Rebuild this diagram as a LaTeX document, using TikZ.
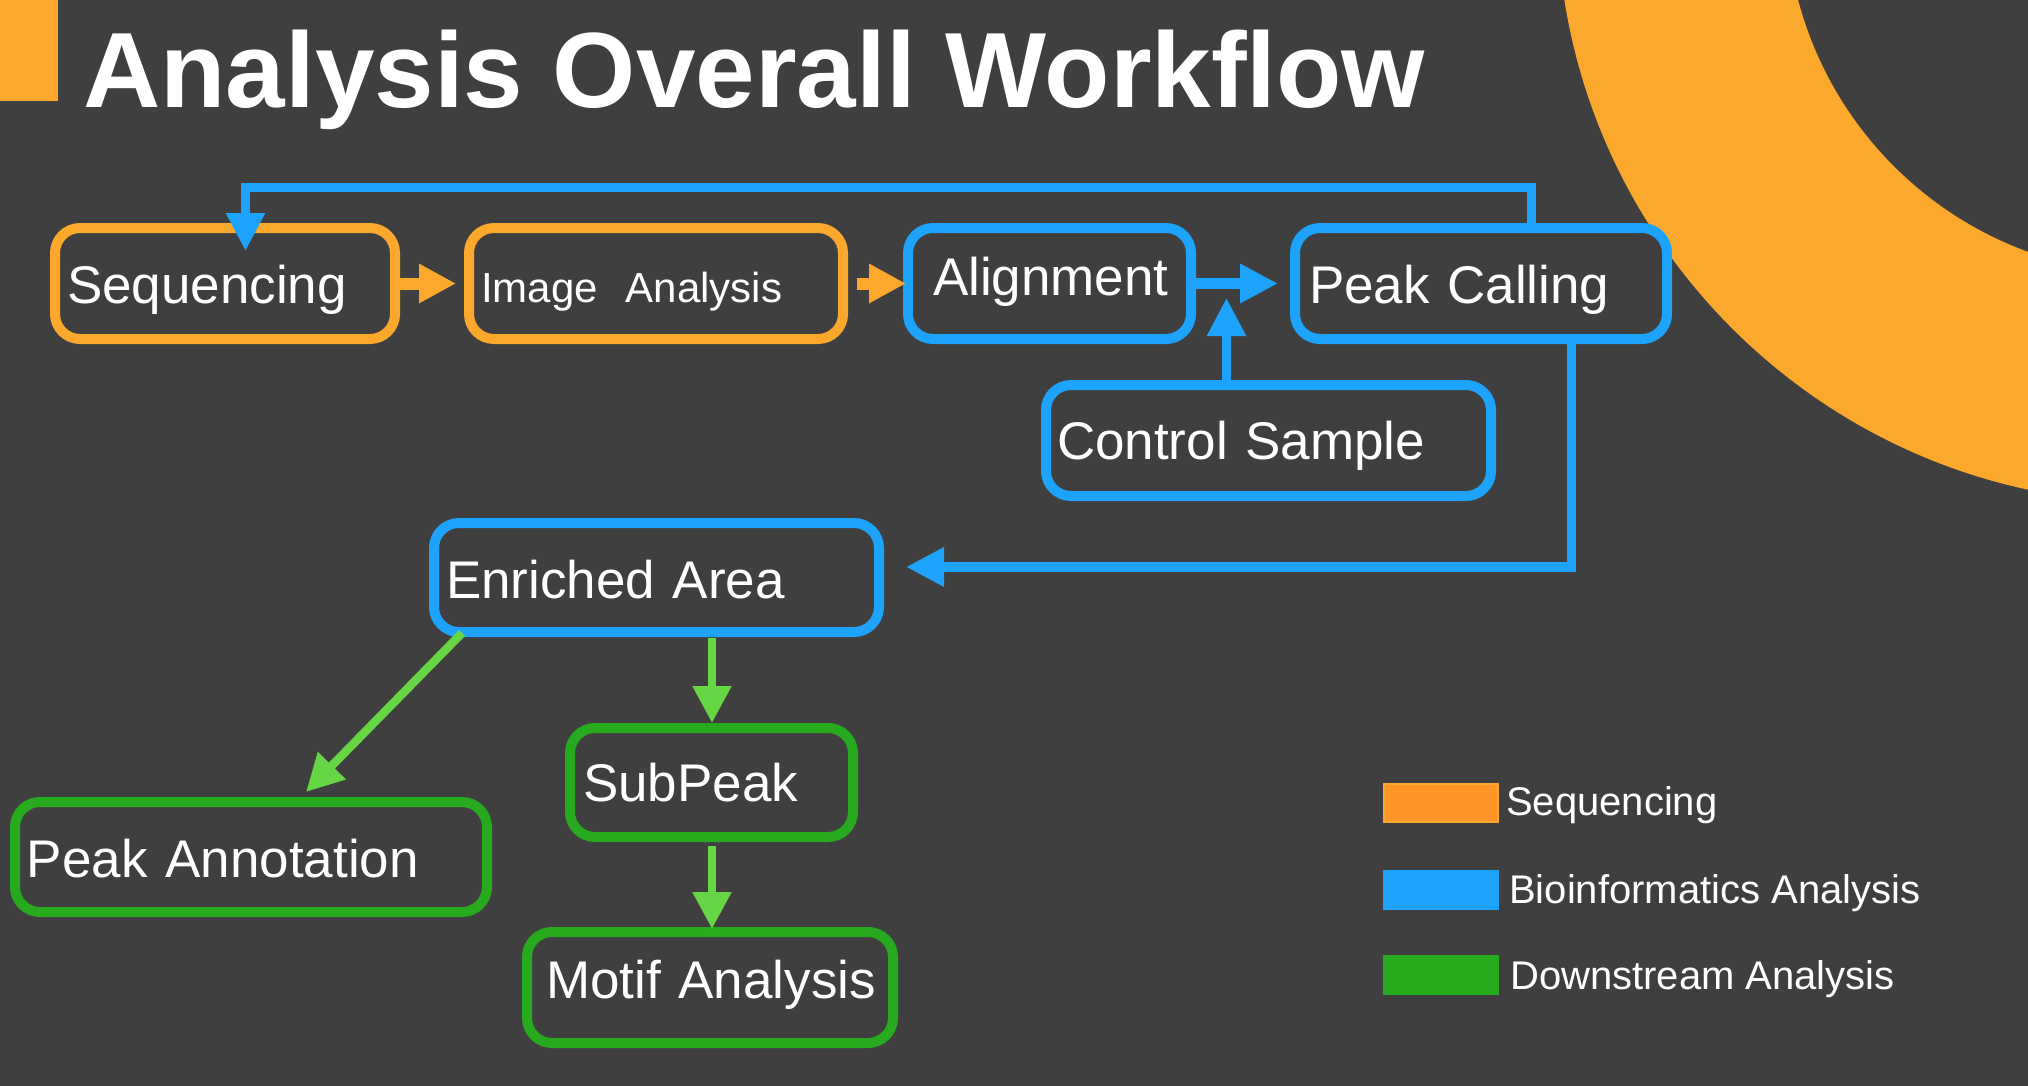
\documentclass[tikz,border=0pt]{standalone}
\usepackage{fontspec}
\setmainfont{Liberation Sans}
\usetikzlibrary{arrows.meta}
\definecolor{bg}{HTML}{3F3F3F}
\definecolor{orng}{HTML}{FCA82C}
\definecolor{blu}{HTML}{1EA3FC}
\definecolor{grn}{HTML}{28AA1F}
\definecolor{agrn}{HTML}{66D644}
\definecolor{legorng}{HTML}{FF9427}
\hyphenpenalty=10000
\exhyphenpenalty=10000
\tikzset{
  wfbox/.style={draw=#1, line width=10pt, rounded corners=25pt, fill=bg,
    align=left, inner ysep=0pt, text depth=0pt, text=white,
    font=\fontsize{53pt}{60pt}\selectfont},
  oarrow/.style={draw=orng, line width=12pt, -{Triangle[length=37pt,width=37pt]}},
  barrow/.style={draw=blu, line width=#1, -{Triangle[length=38pt,width=37pt]}},
  garrow/.style={draw=agrn, line width=8.5pt, -{Triangle[length=37pt,width=37pt]}},
  legbox/.style={fill=#1, minimum width=116pt, minimum height=40pt, inner sep=0pt},
  legtext/.style={anchor=base west, inner sep=0pt, text=white,
    font=\fontsize{40pt}{46pt}\selectfont}
}
\begin{document}
\begin{tikzpicture}[x=1pt, y=-1pt]
\useasboundingbox (0,0) rectangle (2028,1086);
\fill[bg] (0,0) rectangle (2028,1086);
\begin{scope}
  \clip (0,0) rectangle (2028,1086);
  \fill[orng, even odd rule] (2154,-94) circle[radius=597pt] circle[radius=368pt];
\end{scope}
\fill[orng] (0,0) rectangle (58,101);
\node[anchor=base west, inner sep=0pt, text=white,
  font=\bfseries\fontsize{107pt}{112pt}\selectfont] (title) at (83,108) {Analysis Overall Workflow};

% boxes
\node[wfbox=orng, minimum height=111pt, text width=316pt, inner xsep=12pt, text height=39pt] (seq) at (225,283.5) {\mbox{Sequencing}};
\node[wfbox=orng, minimum height=111pt, text width=350pt, inner xsep=12pt, text height=37pt,
  font=\fontsize{42pt}{48pt}\selectfont] (img) at (656,283.5) {\mbox{Image\ \ Analysis}};
\node[wfbox=blu, minimum height=111pt, text width=233pt, inner xsep=25pt, text height=23pt] (align) at (1049.5,283.5) {\mbox{Alignment}};
\node[wfbox=blu, minimum height=111pt, text width=344pt, inner xsep=14pt, text height=39pt] (peak) at (1481,283.5) {\mbox{Peak Calling}};
\node[wfbox=blu, minimum height=111pt, text width=423pt, inner xsep=11pt, text height=37pt] (ctrl) at (1268.5,440.5) {\mbox{Control Sample}};
\node[wfbox=blu, minimum height=109pt, text width=421pt, inner xsep=12pt, text height=41pt] (enr) at (656.5,577.5) {\mbox{Enriched Area}};
\node[wfbox=grn, minimum height=109pt, text width=257pt, inner xsep=13pt, text height=37pt] (sub) at (711.5,782.5) {\mbox{SubPeak}};
\node[wfbox=grn, minimum height=110pt, text width=448pt, inner xsep=12pt, text height=40pt] (ann) at (251,857) {\mbox{Peak Annotation}};
\node[wfbox=grn, minimum height=111pt, text width=328pt, inner xsep=19pt, text height=21pt] (motif) at (710,987.5) {\mbox{Motif Analysis}};

% coordinates for connector ends
\coordinate (ctip) at (1226.5,298);
\coordinate (lr) at (1531,187.5);
\coordinate (ll) at (245.5,187.5);
\coordinate (stip) at (245.5,251);
\coordinate (pc) at (1571.5,567);
\coordinate (etip) at (906,567);
\coordinate (s1) at (712,638);
\coordinate (s2) at (712,723);
\coordinate (m1) at (712,846);
\coordinate (m2) at (712,929);
\coordinate (d1) at (462,633);
\coordinate (d2) at (306,792);

% connectors
\draw[oarrow] (seq.east) -- ([xshift=-8pt]img.west);
\draw[oarrow] ([xshift=9pt]img.east) -- ([xshift=3pt]align.west);
\draw[barrow=11pt] (align.east) -- ([xshift=-12pt]peak.west);
\draw[barrow=8.5pt] (ctrl.north -| ctip) -- (ctip);
\draw[barrow=9pt] (peak.north -| lr) -- (lr) -- (ll) -- (stip);
\draw[barrow=9.5pt] (peak.south -| pc) -- (pc) -- (etip);
\draw[garrow] (s1) -- (s2);
\draw[garrow] (m1) -- (m2);
\draw[garrow] (d1) -- (d2);

% legend
\node[legbox=legorng, draw=orng, line width=2pt, minimum width=114pt, minimum height=38pt] (lo) at (1441,803) {};
\node[legbox=blu] (lb) at (1441,890) {};
\node[legbox=grn] (lg) at (1441,975) {};
\node[legtext] (lto) at (1506,815) {Sequencing};
\node[legtext] (ltb) at (1509,903) {Bioinformatics Analysis};
\node[legtext] (ltg) at (1510,989) {Downstream Analysis};
\end{tikzpicture}
\end{document}
